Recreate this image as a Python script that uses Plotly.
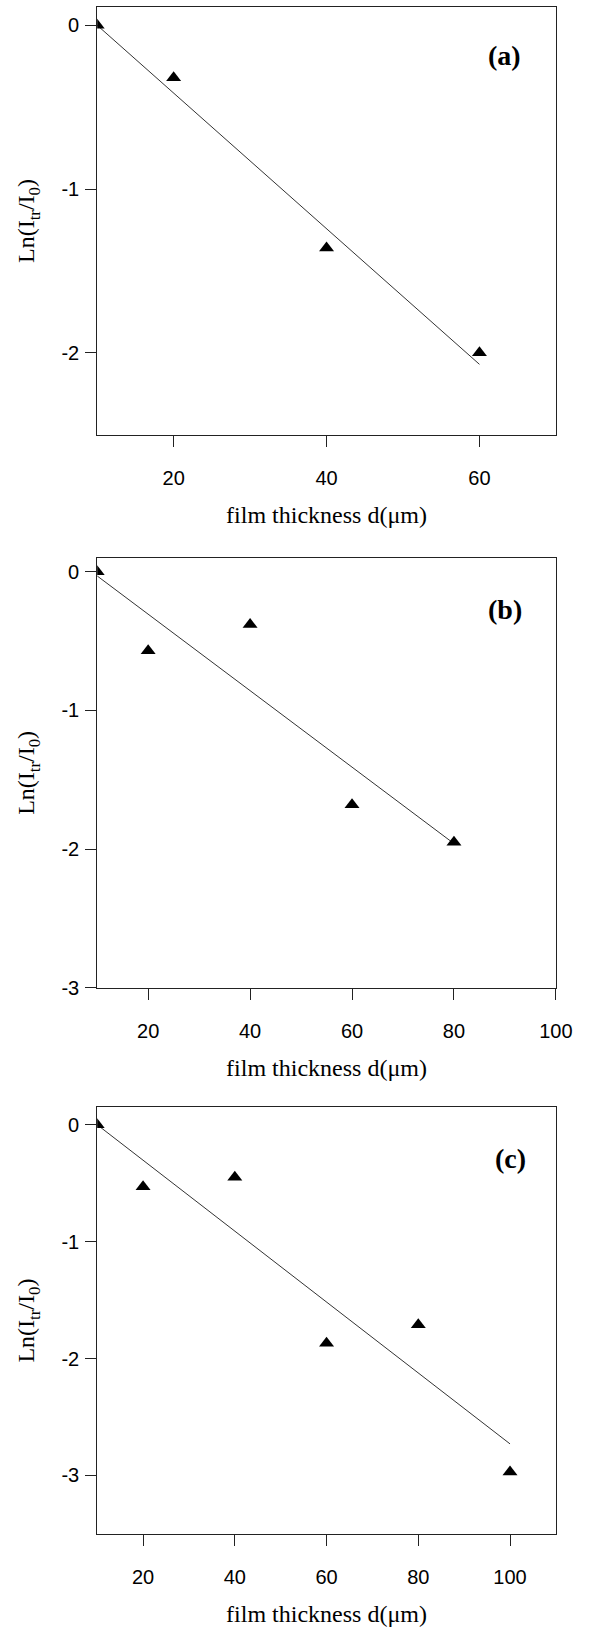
import plotly.graph_objects as go

# ---------------- data ----------------
# Panel (a)
a_thickness = [10, 20, 40, 60]
a_ln_ratio = [0.0, -0.32, -1.36, -2.0]
a_fit_x = [10, 60]
a_fit_y = [0.0, -2.07]

# Panel (b)
b_thickness = [10, 20, 40, 60, 80]
b_ln_ratio = [0.0, -0.57, -0.38, -1.68, -1.95]
b_fit_x = [10, 80]
b_fit_y = [-0.03, -1.96]

# Panel (c)
c_thickness = [10, 20, 40, 60, 80, 100]
c_ln_ratio = [0.0, -0.53, -0.45, -1.87, -1.71, -2.97]
c_fit_x = [10, 100]
c_fit_y = [0.0, -2.73]

# ticks
a_xticks = [20, 40, 60]
bc_xticks = [20, 40, 60, 80, 100]
a_yticks = [0, -1, -2]
bc_yticks = [0, -1, -2, -3]

panel_labels = ["(a)", "(b)", "(c)"]
x_title = "film thickness d(\u03bcm)"
y_title = "Ln(I<sub>tr</sub>/I<sub>0</sub>)"

# ---------------- layout geometry ----------------
W, H = 604, 1634
x_dom = [100 / W, 572 / W]
y_doms = [
    [1 - 437.7 / H, 1 - 7.3 / H],
    [1 - 994.5 / H, 1 - 561.7 / H],
    [1 - 1544.3 / H, 1 - 1114.7 / H],
]
x_ranges = [[10, 70], [10, 100], [10, 110]]
y_ranges = [[-2.5, 0.11], [-3, 0.1], [-3.5, 0.15]]
label_pos = [(0.888, 0.888), (0.89, 0.881), (0.90, 0.879)]

panels = [
    (a_thickness, a_ln_ratio, a_fit_x, a_fit_y, a_xticks, a_yticks),
    (b_thickness, b_ln_ratio, b_fit_x, b_fit_y, bc_xticks, bc_yticks),
    (c_thickness, c_ln_ratio, c_fit_x, c_fit_y, bc_xticks, bc_yticks),
]

SANS = "Arial, Liberation Sans, sans-serif"
SERIF = "Times New Roman, Liberation Serif, serif"
AX_COLOR = "#222222"

fig = go.Figure()
layout = dict(
    width=W, height=H,
    margin=dict(l=0, r=0, t=0, b=0),
    paper_bgcolor="white", plot_bgcolor="white",
    showlegend=False,
    annotations=[],
)

for i, (xs, ys, fx, fy, xt, yt) in enumerate(panels):
    sfx = "" if i == 0 else str(i + 1)
    xa, ya = "x" + sfx, "y" + sfx
    fig.add_trace(go.Scatter(x=fx, y=fy, mode="lines",
                             line=dict(color="#333333", width=1),
                             xaxis=xa, yaxis=ya, hoverinfo="skip"))
    fig.add_trace(go.Scatter(x=xs, y=ys, mode="markers",
                             marker=dict(symbol="triangle-up", size=13, color="black"),
                             xaxis=xa, yaxis=ya))
    layout["xaxis" + sfx] = dict(
        domain=x_dom, anchor=ya, range=x_ranges[i],
        tickvals=xt, ticktext=[str(v) for v in xt],
        ticks="outside", ticklen=11, tickwidth=1, tickcolor=AX_COLOR,
        showline=True, linecolor=AX_COLOR, linewidth=1, mirror=True,
        showgrid=False, zeroline=False,
        tickfont=dict(family=SANS, size=20, color="black"),
        ticklabelstandoff=14,
        title=dict(text=x_title, font=dict(family=SERIF, size=24, color="black"), standoff=18),
    )
    layout["yaxis" + sfx] = dict(
        domain=y_doms[i], anchor=xa, range=y_ranges[i],
        tickvals=yt, ticktext=[str(v) for v in yt],
        ticks="outside", ticklen=11, tickwidth=1, tickcolor=AX_COLOR,
        showline=True, linecolor=AX_COLOR, linewidth=1, mirror=True,
        showgrid=False, zeroline=False,
        tickfont=dict(family=SANS, size=20, color="black"),
        ticklabelstandoff=2,
        title=dict(text=y_title, font=dict(family=SERIF, size=24, color="black"), standoff=19),
    )
    lx, ly = label_pos[i]
    layout["annotations"].append(dict(
        text="<b>" + panel_labels[i] + "</b>", showarrow=False,
        xref=xa + " domain", yref=ya + " domain", x=lx, y=ly,
        xanchor="center", yanchor="middle",
        font=dict(family=SERIF, size=28, color="black"),
    ))

fig.update_layout(**layout)
fig.write_html("out.html")
